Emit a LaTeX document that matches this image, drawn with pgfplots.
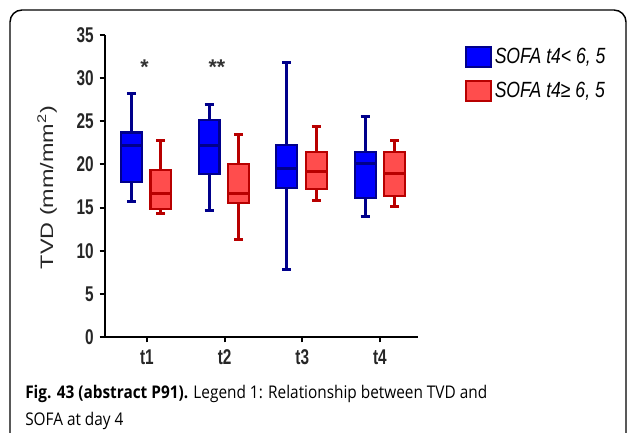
\documentclass[border=0pt]{standalone}
\usepackage{pgfplots}
\pgfplotsset{compat=1.18}
\usepgfplotslibrary{statistics}
\usepackage{fontspec}
\setmainfont[FakeStretch=0.88]{Open Sans}
\newfontfamily\cond[FakeStretch=0.72]{Liberation Sans}
\newfontfamily\condi[FakeStretch=0.8]{Liberation Sans}
\newfontfamily\arial{Liberation Sans}
\definecolor{bfill}{HTML}{0000FF}
\definecolor{bdraw}{HTML}{00008B}
\definecolor{rfill}{HTML}{FF4D4D}
\definecolor{rdraw}{HTML}{B80000}
\begin{document}
\begin{tikzpicture}
\begin{scope}[x=0.75pt,y=-0.75pt]
\path[use as bounding box] (0,0) rectangle (627,432);
\begin{scope}
\clip (0,0) rectangle (627,432);
\draw[line width=1.1pt, rounded corners=9] (10,460) -- (10,10) -- (626,10) -- (626,460);
\end{scope}
\node[anchor=base west, inner sep=0pt, font=\fontsize{13.1pt}{16pt}\selectfont] at (25,398) {\textbf{Fig. 43 (abstract P91).} Legend 1: Relationship between TVD and};
\node[anchor=base west, inner sep=0pt, font=\fontsize{13.1pt}{16pt}\selectfont] at (25,425) {SOFA at day 4};
\end{scope}
\begin{axis}[
  at={(78.75pt,-252.75pt)}, anchor=south west,
  scale only axis, width=234.75pt, height=226.5pt,
  xmin=0.46, xmax=4.49, ymin=0, ymax=35,
  axis lines*=left,
  axis line style={line width=1.4pt},
  tick style={line width=1.4pt, black},
  tick align=outside,
  major tick length=4pt,
  xtick={1,2,3,4}, xticklabels={t1,t2,t3,t4},
  ytick={0,5,10,15,20,25,30,35},
  tick label style={font=\cond\bfseries\fontsize{16pt}{18pt}\selectfont, text=black!85},
  xticklabel style={yshift=-2pt},
  yticklabel style={xshift=-1pt},
  /pgf/number format/assume math mode=true,
  ylabel={\scalebox{1.3}[1]{TVD (mm/mm\textsuperscript{2})}},
  ylabel style={font=\arial\fontsize{13.5pt}{16pt}\selectfont, text=black!85, at={(axis description cs:-0.185,0.495)}, anchor=center},
  clip=false,
  boxplot/draw direction=y,
  legend style={at={(axis description cs:1.15,0.967)}, anchor=north west, draw=none, fill=none,
    font=\condi\itshape\fontsize{16.5pt}{18pt}\selectfont, row sep=9pt, inner sep=0pt,
    /tikz/every even column/.append style={column sep=8pt}},
  legend cell align=left,
]
\pgfplotsset{
 bbox/.style={solid, fill=bfill, draw=bdraw, line width=1.6pt,
   boxplot/every whisker/.style={draw=bdraw, line width=2.2pt},
   boxplot/every median/.style={draw=bdraw, line width=2.2pt}},
 rbox/.style={solid, fill=rfill, draw=rdraw, line width=1.6pt,
   boxplot/every whisker/.style={draw=rdraw, line width=2.2pt},
   boxplot/every median/.style={draw=rdraw, line width=2.2pt}},
}
% t1
\addplot[bbox, forget plot, boxplot prepared={lower whisker=15.7, lower quartile=18.0, median=22.2, upper quartile=23.7, upper whisker=28.2, draw position=0.80, box extend=0.27, whisker extend=0.115}] coordinates {};
\addplot[rbox, forget plot, boxplot prepared={lower whisker=14.3, lower quartile=14.8, median=16.6, upper quartile=19.4, upper whisker=22.8, draw position=1.18, box extend=0.27, whisker extend=0.115}] coordinates {};
% t2
\addplot[bbox, forget plot, boxplot prepared={lower whisker=14.7, lower quartile=18.85, median=22.2, upper quartile=25.1, upper whisker=26.9, draw position=1.80, box extend=0.27, whisker extend=0.115}] coordinates {};
\addplot[rbox, forget plot, boxplot prepared={lower whisker=11.3, lower quartile=15.5, median=16.65, upper quartile=20.0, upper whisker=23.5, draw position=2.18, box extend=0.27, whisker extend=0.115}] coordinates {};
% t3
\addplot[bbox, forget plot, boxplot prepared={lower whisker=7.8, lower quartile=17.3, median=19.55, upper quartile=22.3, upper whisker=31.8, draw position=2.80, box extend=0.27, whisker extend=0.115}] coordinates {};
\addplot[rbox, forget plot, boxplot prepared={lower whisker=15.8, lower quartile=17.2, median=19.2, upper quartile=21.4, upper whisker=24.4, draw position=3.18, box extend=0.27, whisker extend=0.115}] coordinates {};
% t4
\addplot[bbox, forget plot, boxplot prepared={lower whisker=14.0, lower quartile=16.1, median=20.1, upper quartile=21.4, upper whisker=25.6, draw position=3.81, box extend=0.27, whisker extend=0.115}] coordinates {};
\addplot[rbox, forget plot, boxplot prepared={lower whisker=15.1, lower quartile=16.3, median=18.9, upper quartile=21.4, upper whisker=22.8, draw position=4.19, box extend=0.27, whisker extend=0.115}] coordinates {};
% legend
\addlegendimage{legend image code/.code={\draw[fill=bfill, draw=bdraw, line width=1.4pt] (0pt,-7.5pt) rectangle (18.75pt,7.5pt);}}
\addlegendentry{SOFA t4< 6, 5}
\addlegendimage{legend image code/.code={\draw[fill=rfill, draw=rdraw, line width=1.4pt] (0pt,-7.5pt) rectangle (18.75pt,7.5pt);}}
\addlegendentry{SOFA t4≥ 6, 5}
% significance
\node[font=\arial\bfseries\fontsize{16pt}{18pt}\selectfont, text=black!80] at (axis cs:0.97,31.3) {*};
\node[font=\arial\bfseries\fontsize{16pt}{18pt}\selectfont, text=black!80] at (axis cs:1.9,31.3) {**};
\end{axis}
\end{tikzpicture}
\end{document}
